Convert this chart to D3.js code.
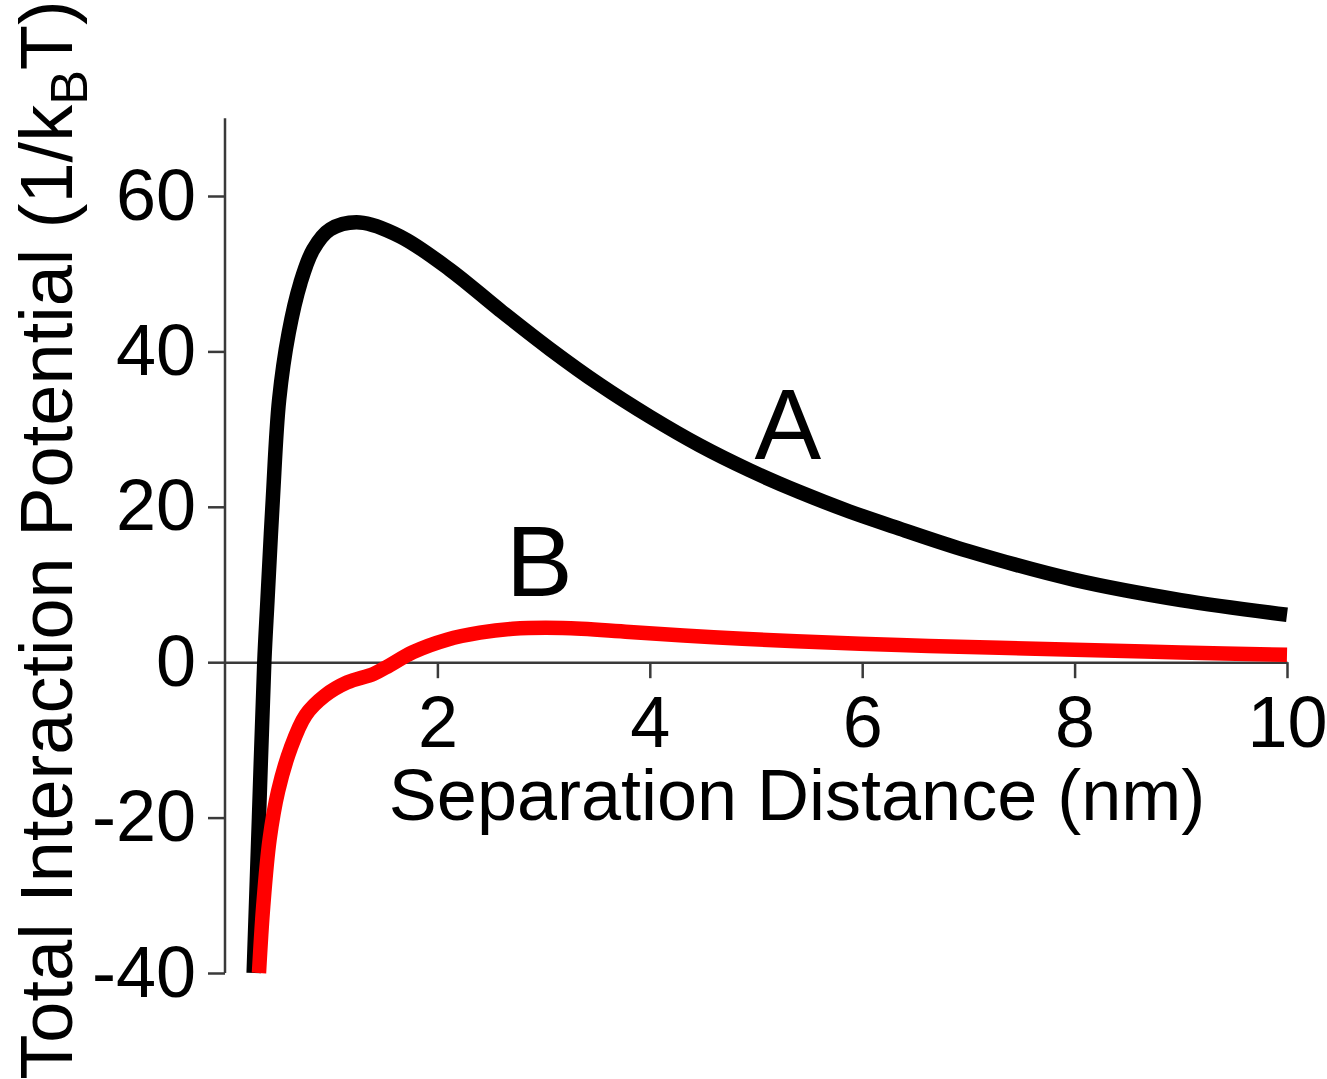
<!DOCTYPE html>
<html>
<head>
<meta charset="utf-8">
<script src="https://cdn.jsdelivr.net/npm/d3@7"></script>
<style>
  html, body { margin: 0; padding: 0; background: #fff; }
  svg text { font-family: "Liberation Sans", Arial, sans-serif; fill: #000; }
</style>
</head>
<body>
<svg id="chart" width="1327" height="1079"></svg>
<script>
// ---- data ----
const xTicks = [2, 4, 6, 8, 10];
const yTicks = [-40, -20, 0, 20, 40, 60];

const seriesA_x = [0.27, 0.32, 0.37, 0.40, 0.45, 0.51, 0.60, 0.71, 0.83, 0.99, 1.27, 1.65, 2.12, 2.59, 3.06, 3.53, 4.0, 4.47, 4.94, 5.41, 5.88, 6.35, 7.0, 8.0, 9.0, 10.0];
const seriesA_y = [-40, -20, 0, 8, 20.9, 33.8, 42.4, 48.8, 53.1, 55.7, 56.6, 54.8, 50.5, 45.3, 40.3, 35.7, 31.6, 27.9, 24.7, 21.9, 19.4, 17.2, 14.3, 10.6, 8.0, 6.1];

const seriesB_x = [0.32, 0.36, 0.42, 0.50, 0.62, 0.76, 0.94, 1.15, 1.40, 1.55, 1.77, 2.09, 2.40, 2.71, 3.18, 3.81, 4.6, 5.38, 6.35, 7.29, 8.0, 9.0, 10.0];
const seriesB_y = [-40, -31.4, -22.8, -16.6, -11.0, -6.8, -4.3, -2.6, -1.5, -0.4, 1.3, 2.9, 3.8, 4.3, 4.4, 3.9, 3.2, 2.7, 2.2, 1.85, 1.6, 1.25, 0.95];

const labels = [{text: "A", x: 5.3, y: 26.2}, {text: "B", x: 2.96, y: 8.5}];

// ---- chart ----
const svg = d3.select("#chart");
const x = d3.scaleLinear().domain([0, 10]).range([225, 1287]);
const y = d3.scaleLinear().domain([-40, 60]).range([973, 196]);
const yTop = 70;

const axisColor = "#3a3a3a";

// y axis
const gy = svg.append("g").attr("transform", `translate(${x(0)},0)`)
  .call(d3.axisLeft(y).tickValues(yTicks).tickSize(17).tickSizeOuter(0).tickPadding(12).tickFormat(d3.format("d")));
gy.select(".domain").remove();
gy.append("line").attr("x1", 0).attr("x2", 0).attr("y1", y(-40)).attr("y2", y(yTop))
  .attr("stroke", axisColor).attr("stroke-width", 2.5);
gy.selectAll(".tick line").attr("stroke", axisColor).attr("stroke-width", 2.5);
gy.selectAll(".tick text").attr("font-size", 72).attr("fill", "#000")
  .style("font-family", '"Liberation Sans", Arial, sans-serif')
  .text(d => d < 0 ? "-" + Math.abs(d) : d);

// x axis at y = 0
const gx = svg.append("g").attr("transform", `translate(0,${y(0)})`)
  .call(d3.axisBottom(x).tickValues(xTicks).tickSize(16).tickSizeOuter(0).tickPadding(18).tickFormat(d3.format("d")));
gx.select(".domain").attr("stroke", axisColor).attr("stroke-width", 2.5);
gx.selectAll(".tick line").attr("stroke", axisColor).attr("stroke-width", 2.5);
gx.selectAll(".tick text").attr("font-size", 72).attr("fill", "#000")
  .style("font-family", '"Liberation Sans", Arial, sans-serif');

// lines
const line = d3.line().x(d => x(d[0])).y(d => y(d[1])).curve(d3.curveCatmullRom.alpha(0.5));
const dataA = seriesA_x.map((v, i) => [v, seriesA_y[i]]);
const dataB = seriesB_x.map((v, i) => [v, seriesB_y[i]]);

svg.append("path").datum(dataA).attr("d", line)
  .attr("fill", "none").attr("stroke", "#000").attr("stroke-width", 14.5).attr("stroke-linejoin", "round");
svg.append("path").datum(dataB).attr("d", line)
  .attr("fill", "none").attr("stroke", "#ff0000").attr("stroke-width", 14.5).attr("stroke-linejoin", "round");

// curve labels
svg.selectAll(".clabel").data(labels).enter().append("text")
  .attr("class", "clabel")
  .attr("x", d => x(d.x)).attr("y", d => y(d.y))
  .attr("text-anchor", "middle").attr("font-size", 100)
  .text(d => d.text);

// x axis title
svg.append("text").attr("x", 797).attr("y", 820).attr("text-anchor", "middle")
  .attr("font-size", 72).text("Separation Distance (nm)");

// y axis title
const yt = svg.append("text").attr("transform", "translate(72,540) rotate(-90)")
  .attr("text-anchor", "middle").attr("font-size", 74);
yt.append("tspan").text("Total Interaction Potential (1/k");
yt.append("tspan").attr("font-size", 52).attr("dy", 15).text("B");
yt.append("tspan").attr("dy", -15).text("T)");
</script>
</body>
</html>
